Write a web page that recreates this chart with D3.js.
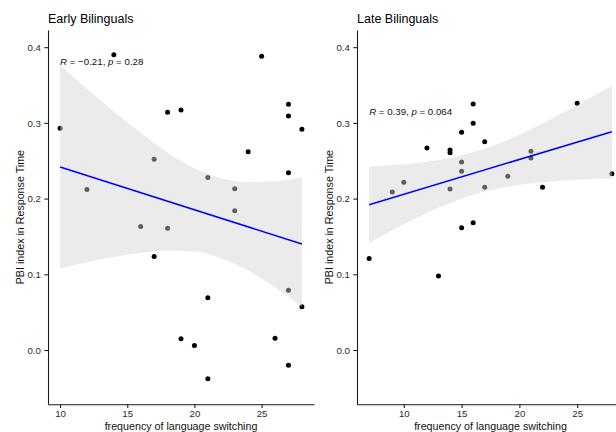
<!DOCTYPE html>
<html><head><meta charset="utf-8">
<script src="https://cdn.jsdelivr.net/npm/d3@7"></script>
<style>
body{margin:0;background:#fff}
svg{display:block}
text{font-family:"Liberation Sans",Arial,Helvetica,sans-serif}
</style>
</head><body>
<svg id="chart" width="616" height="432"></svg>
<script>
// ---------- data ----------
const titles = ["Early Bilinguals", "Late Bilinguals"];
const xAxisTitle = "frequency of language switching";
const yAxisTitle = "PBI index in Response Time";

const earlyX = [10, 14, 12, 17, 18, 19, 21, 23, 23, 24, 25, 27, 27, 27, 28, 16, 18, 17, 27, 28, 21, 19, 20, 21, 26, 27];
const earlyY = [0.293, 0.390, 0.212, 0.252, 0.314, 0.317, 0.228, 0.213, 0.184, 0.262, 0.388, 0.3245, 0.309, 0.234, 0.2915, 0.163, 0.161, 0.1235, 0.079, 0.057, 0.069, 0.015, 0.006, -0.038, 0.0155, -0.020];

const lateX = [7, 9, 10, 12, 13, 14, 14, 14, 15, 15, 15, 15, 16, 16, 16, 17, 17, 19, 21, 21, 22, 25, 28];
const lateY = [0.121, 0.2087, 0.2215, 0.2668, 0.0978, 0.2642, 0.2607, 0.2127, 0.2875, 0.2483, 0.236, 0.1616, 0.325, 0.2995, 0.1682, 0.2752, 0.2149, 0.2294, 0.2624, 0.2536, 0.2149, 0.3259, 0.2329];

// fitted regression line (end points) and confidence band
const earlyFitX = [10, 28];
const earlyFitY = [0.2417, 0.1400];
const earlyBandX  = [10, 12, 14, 16, 18, 20, 22, 24, 26, 28];
const earlyBandHi = [0.376, 0.345, 0.315, 0.287, 0.261, 0.240, 0.227, 0.222, 0.223, 0.228];
const earlyBandLo = [0.108, 0.116, 0.123, 0.128, 0.131, 0.130, 0.121, 0.105, 0.083, 0.057];

const lateFitX = [7, 28];
const lateFitY = [0.192, 0.2884];
const lateBandX  = [7, 10, 13, 16, 19, 22, 25, 28];
const lateBandHi = [0.2422, 0.2453, 0.2509, 0.2611, 0.2777, 0.2993, 0.3234, 0.3491];
const lateBandLo = [0.1418, 0.1661, 0.1879, 0.2051, 0.2159, 0.2217, 0.2250, 0.2267];

const corrR = ["\u22120.21", "0.39"];
const corrP = ["0.28", "0.064"];
const corrLabelY = [0.376, 0.310];

const yTicks = [0.0, 0.1, 0.2, 0.3, 0.4];
const xTicks = [10, 15, 20, 25];
const yLimits = [-0.0717, 0.4227];

// ---------- drawing ----------
const svg = d3.select("#chart");
const plotTop = 30, plotBottom = 404.3;

const panels = [
  {title: titles[0], xs: earlyX, ys: earlyY, fitX: earlyFitX, fitY: earlyFitY,
   bandX: earlyBandX, bandHi: earlyBandHi, bandLo: earlyBandLo,
   r: corrR[0], p: corrP[0], labY: corrLabelY[0],
   left: 48, right: 314, yTitleX: 24},
  {title: titles[1], xs: lateX, ys: lateY, fitX: lateFitX, fitY: lateFitY,
   bandX: lateBandX, bandHi: lateBandHi, bandLo: lateBandLo,
   r: corrR[1], p: corrP[1], labY: corrLabelY[1],
   left: 357, right: 624, yTitleX: 332.6}
];

panels.forEach(P => {
  const g = svg.append("g");
  const [xmin, xmax] = d3.extent(P.xs);
  const pad = (xmax - xmin) * 0.05;
  const x = d3.scaleLinear().domain([xmin - pad, xmax + pad]).range([P.left, P.right]);
  const y = d3.scaleLinear().domain(yLimits).range([plotBottom, plotTop]);

  // points
  g.append("g").selectAll("circle")
    .data(P.xs.map((d, i) => [d, P.ys[i]]))
    .join("circle")
    .attr("cx", d => x(d[0]))
    .attr("cy", d => y(d[1]))
    .attr("r", 2.5)
    .attr("fill", "#000");

  // confidence band (drawn over points, semi-transparent)
  const band = P.bandX.map((d, i) => ({x: d, lo: P.bandLo[i], hi: P.bandHi[i]}));
  g.append("path")
    .datum(band)
    .attr("d", d3.area().x(d => x(d.x)).y0(d => y(d.lo)).y1(d => y(d.hi)).curve(d3.curveMonotoneX))
    .attr("fill", "#d3d3d3")
    .attr("fill-opacity", 0.45);

  // regression line
  g.append("path")
    .datum(P.fitX.map((d, i) => [d, P.fitY[i]]))
    .attr("d", d3.line().x(d => x(d[0])).y(d => y(d[1])))
    .attr("fill", "none")
    .attr("stroke", "#0000ff")
    .attr("stroke-width", 1.5);

  // axes
  const ax = g.append("g").attr("transform", `translate(${P.left},0)`)
    .call(d3.axisLeft(y).tickValues(yTicks).tickFormat(d3.format(".1f"))
      .tickSize(3.7).tickSizeOuter(0).tickPadding(3.4));
  const bx = g.append("g").attr("transform", `translate(0,${plotBottom})`)
    .call(d3.axisBottom(x).tickValues(xTicks).tickFormat(d3.format("d"))
      .tickSize(3.7).tickSizeOuter(0).tickPadding(2.2));
  [ax, bx].forEach(a => {
    a.select(".domain").attr("stroke", "#1a1a1a").attr("stroke-width", 1.07);
    a.selectAll(".tick line").attr("stroke", "#1a1a1a").attr("stroke-width", 1.07);
    a.selectAll(".tick text").attr("fill", "#2b2b2b").style("font-size", "9.7px")
      .style("font-family", '"Liberation Sans",Arial,sans-serif');
  });

  // title
  g.append("text").attr("x", P.left).attr("y", 22.7)
    .attr("fill", "#000").style("font-size", "12.5px").text(P.title);

  // axis titles
  g.append("text").attr("x", (P.left + P.right) / 2).attr("y", 430.3)
    .attr("text-anchor", "middle").attr("fill", "#111").style("font-size", "10.7px")
    .text(xAxisTitle);
  g.append("text")
    .attr("transform", `translate(${P.yTitleX},${(plotTop + plotBottom) / 2}) rotate(-90)`)
    .attr("text-anchor", "middle").attr("fill", "#111").style("font-size", "10.7px")
    .text(yAxisTitle);

  // correlation annotation
  const t = g.append("text").attr("x", x(xmin)).attr("y", y(P.labY))
    .attr("fill", "#111").style("font-size", "9.7px");
  t.append("tspan").style("font-style", "italic").text("R");
  t.append("tspan").text(" = " + P.r + ", ");
  t.append("tspan").style("font-style", "italic").text("p");
  t.append("tspan").text(" = " + P.p);
});
</script>
</body></html>
